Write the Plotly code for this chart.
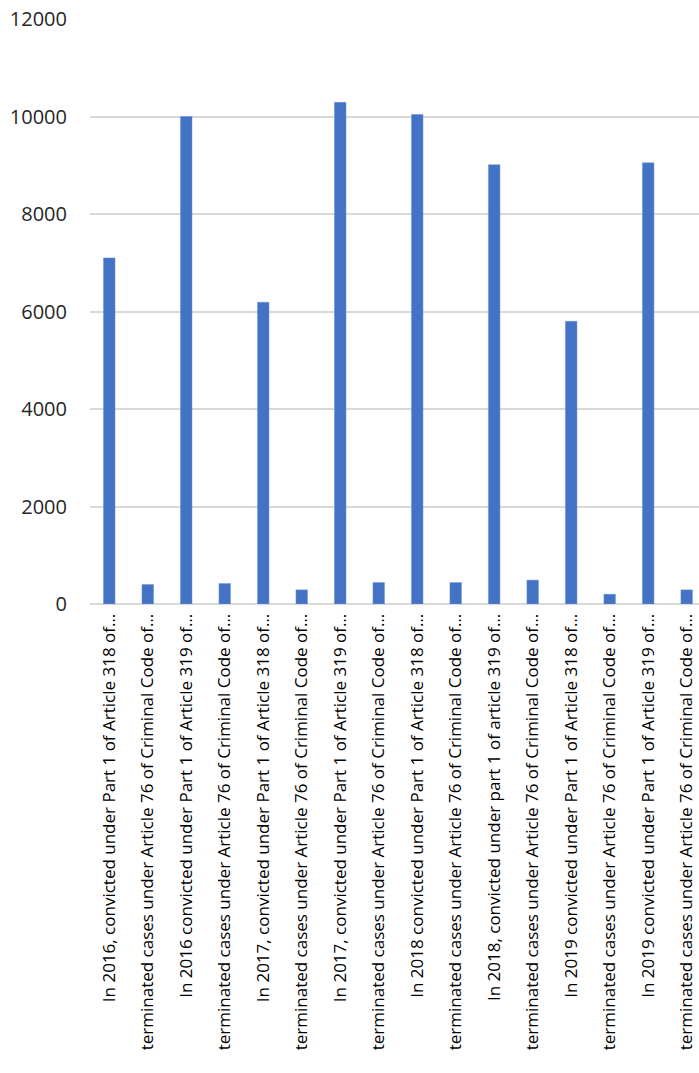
import plotly.graph_objects as go

categories = [
    "In 2016, convicted under Part 1 of Article 318 of…",
    "terminated cases under Article 76 of Criminal Code of…",
    "In 2016 convicted under Part 1 of Article 319 of…",
    "terminated cases under Article 76 of Criminal Code of…",
    "In 2017, convicted under Part 1 of Article 318 of…",
    "terminated cases under Article 76 of Criminal Code of…",
    "In 2017, convicted under Part 1 of Article 319 of…",
    "terminated cases under Article 76 of Criminal Code of…",
    "In 2018 convicted under Part 1 of Article 318 of…",
    "terminated cases under Article 76 of Criminal Code of…",
    "In 2018, convicted under part 1 of article 319 of…",
    "terminated cases under Article 76 of Criminal Code of…",
    "In 2019 convicted under Part 1 of Article 318 of…",
    "terminated cases under Article 76 of Criminal Code of…",
    "In 2019 convicted under Part 1 of Article 319 of…",
    "terminated cases under Article 76 of Criminal Code of…",
]
values = [7100, 400, 10000, 420, 6190, 290, 10290, 440,
          10040, 440, 9010, 490, 5800, 200, 9050, 290]
y_ticks = [0, 2000, 4000, 6000, 8000, 10000, 12000]

positions = list(range(len(categories)))

fig = go.Figure()
fig.add_trace(go.Bar(
    x=positions,
    y=values,
    width=0.3,
    marker=dict(color="#4472C4", line=dict(color="#6f93d6", width=0.5)),
))

fig.update_layout(
    width=699,
    height=1073,
    margin=dict(l=90, r=0, t=19, b=469, autoexpand=False),
    paper_bgcolor="white",
    plot_bgcolor="white",
    showlegend=False,
    font=dict(family="Open Sans", color="#262626"),
    bargap=0.7,
)
fig.update_xaxes(
    range=[-0.5, 15.32],
    tickmode="array",
    tickvals=positions,
    ticktext=categories,
    tickangle=-90,
    tickfont=dict(size=17, family="Open Sans", color="#000000"),
    showgrid=False,
    zeroline=False,
    showline=False,
    ticks="outside",
    ticklen=2,
    tickcolor="rgba(0,0,0,0)",
    automargin=False,
)
fig.update_yaxes(
    range=[0, 12000],
    tickmode="array",
    tickvals=y_ticks,
    ticktext=[str(v) for v in y_ticks],
    tickfont=dict(size=20, family="Open Sans", color="#262626"),
    showgrid=True,
    gridcolor="#d9d9d9",
    gridwidth=2,
    zeroline=True,
    zerolinecolor="#d9d9d9",
    zerolinewidth=2,
    showline=False,
    ticks="outside",
    ticklen=18,
    tickcolor="rgba(0,0,0,0)",
    automargin=False,
)

fig.write_html("out.html")
